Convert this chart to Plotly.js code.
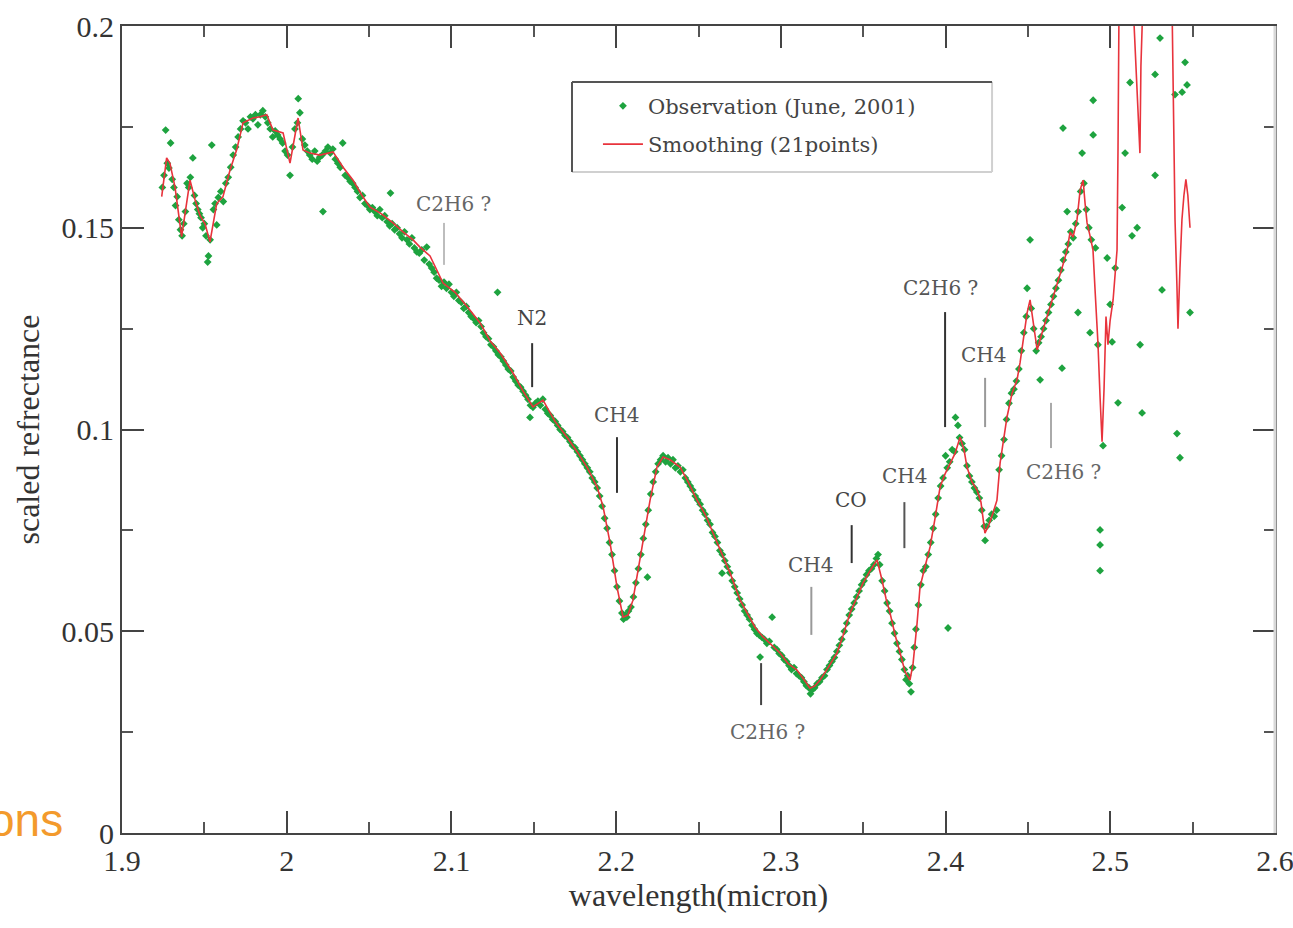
<!DOCTYPE html>
<html>
<head>
<meta charset="utf-8">
<script src="https://cdn.plot.ly/plotly-3.0.1.min.js"></script>
<style>
html,body{margin:0;padding:0;background:#fff;}
#chart{width:1293px;height:928px;}
</style>
</head>
<body>
<div id="chart"></div>
<script>
// ---------- data ----------
// Observation (June, 2001): [wavelength (micron), scaled reflectance]
const observation = [
[1.9245,0.1600],[1.9255,0.1630],[1.9265,0.1742],[1.9275,0.1660],[1.9285,0.1648],[1.9295,0.1710],[1.9305,0.1620],[1.9315,0.1600],
[1.9325,0.1555],[1.9335,0.1577],[1.9345,0.1520],[1.9355,0.1495],[1.9365,0.1480],[1.9375,0.1510],[1.9385,0.1540],[1.9395,0.1610],
[1.9405,0.1600],[1.9415,0.1625],[1.9430,0.1673],[1.9440,0.1580],[1.9450,0.1560],[1.9460,0.1545],[1.9470,0.1535],[1.9480,0.1525],
[1.9490,0.1500],[1.9500,0.1510],[1.9510,0.1480],[1.9520,0.1415],[1.9525,0.1430],[1.9535,0.1470],[1.9545,0.1705],[1.9555,0.1545],
[1.9565,0.1560],[1.9575,0.1507],[1.9585,0.1575],[1.9600,0.1590],[1.9615,0.1565],[1.9630,0.1610],[1.9645,0.1625],[1.9660,0.1650],
[1.9675,0.1680],[1.9690,0.1700],[1.9705,0.1725],[1.9720,0.1745],[1.9735,0.1765],[1.9750,0.1760],[1.9765,0.1745],[1.9780,0.1775],
[1.9795,0.1770],[1.9810,0.1780],[1.9825,0.1755],[1.9840,0.1780],[1.9855,0.1790],[1.9870,0.1775],[1.9885,0.1760],[1.9900,0.1745],
[1.9915,0.1725],[1.9930,0.1740],[1.9945,0.1730],[1.9960,0.1720],[1.9975,0.1710],[1.9990,0.1690],[2.0005,0.1680],[2.0020,0.1630],
[2.0035,0.1700],[2.0050,0.1745],[2.0065,0.1760],[2.0070,0.1820],[2.0080,0.1785],[2.0095,0.1720],[2.0110,0.1705],[2.0125,0.1690],
[2.0140,0.1680],[2.0155,0.1670],[2.0170,0.1690],[2.0185,0.1665],[2.0200,0.1675],[2.0215,0.1680],[2.0220,0.1540],[2.0235,0.1690],
[2.0250,0.1700],[2.0265,0.1685],[2.0280,0.1695],[2.0295,0.1670],[2.0310,0.1660],[2.0325,0.1650],[2.0340,0.1710],[2.0355,0.1630],
[2.0370,0.1625],[2.0385,0.1615],[2.0400,0.1610],[2.0415,0.1600],[2.0430,0.1590],[2.0445,0.1575],[2.0460,0.1580],[2.0475,0.1560],
[2.0490,0.1555],[2.0505,0.1545],[2.0520,0.1550],[2.0535,0.1540],[2.0550,0.1530],[2.0565,0.1545],[2.0580,0.1525],[2.0595,0.1530],
[2.0610,0.1515],[2.0625,0.1505],[2.0630,0.1586],[2.0640,0.1510],[2.0655,0.1495],[2.0670,0.1500],[2.0685,0.1485],[2.0700,0.1475],
[2.0715,0.1490],[2.0730,0.1470],[2.0745,0.1460],[2.0760,0.1475],[2.0775,0.1450],[2.0790,0.1440],[2.0805,0.1437],[2.0820,0.1445],
[2.0835,0.1420],[2.0850,0.1452],[2.0865,0.1410],[2.0880,0.1400],[2.0895,0.1390],[2.0910,0.1375],[2.0925,0.1370],[2.0940,0.1355],
[2.0955,0.1365],[2.0970,0.1350],[2.0985,0.1360],[2.1000,0.1340],[2.1015,0.1330],[2.1030,0.1340],[2.1045,0.1320],[2.1060,0.1315],
[2.1075,0.1300],[2.1090,0.1305],[2.1105,0.1290],[2.1120,0.1280],[2.1135,0.1275],[2.1150,0.1265],[2.1165,0.1270],[2.1180,0.1255],
[2.1195,0.1240],[2.1210,0.1230],[2.1225,0.1225],[2.1240,0.1210],[2.1255,0.1205],[2.1270,0.1195],[2.1280,0.1340],[2.1285,0.1185],
[2.1300,0.1180],[2.1315,0.1170],[2.1330,0.1160],[2.1345,0.1150],[2.1360,0.1145],[2.1375,0.1130],[2.1390,0.1120],[2.1405,0.1110],
[2.1420,0.1105],[2.1435,0.1095],[2.1450,0.1085],[2.1465,0.1075],[2.1477,0.1030],[2.1480,0.1060],[2.1495,0.1055],[2.1510,0.1065],
[2.1525,0.1070],[2.1540,0.1060],[2.1555,0.1075],[2.1570,0.1050],[2.1585,0.1040],[2.1600,0.1035],[2.1615,0.1025],[2.1630,0.1020],
[2.1645,0.1010],[2.1660,0.1000],[2.1675,0.0995],[2.1690,0.0985],[2.1705,0.0980],[2.1720,0.0970],[2.1735,0.0960],[2.1750,0.0955],
[2.1765,0.0945],[2.1780,0.0935],[2.1795,0.0925],[2.1810,0.0915],[2.1825,0.0905],[2.1840,0.0895],[2.1855,0.0880],[2.1870,0.0870],
[2.1885,0.0855],[2.1900,0.0835],[2.1915,0.0810],[2.1930,0.0780],[2.1945,0.0755],[2.1960,0.0720],[2.1975,0.0690],[2.1990,0.0650],
[2.2005,0.0610],[2.2020,0.0575],[2.2035,0.0545],[2.2045,0.0530],[2.2055,0.0540],[2.2065,0.0535],[2.2075,0.0550],[2.2090,0.0560],
[2.2105,0.0585],[2.2120,0.0620],[2.2135,0.0655],[2.2150,0.0690],[2.2165,0.0730],[2.2180,0.0765],[2.2190,0.0634],[2.2195,0.0800],
[2.2210,0.0840],[2.2225,0.0870],[2.2240,0.0895],[2.2255,0.0915],[2.2270,0.0925],[2.2285,0.0935],[2.2300,0.0920],[2.2315,0.0930],
[2.2330,0.0915],[2.2345,0.0925],[2.2360,0.0905],[2.2375,0.0910],[2.2390,0.0895],[2.2405,0.0900],[2.2420,0.0880],[2.2435,0.0870],
[2.2450,0.0860],[2.2465,0.0850],[2.2480,0.0835],[2.2495,0.0825],[2.2510,0.0815],[2.2525,0.0800],[2.2540,0.0790],[2.2555,0.0775],
[2.2570,0.0765],[2.2585,0.0745],[2.2600,0.0735],[2.2615,0.0720],[2.2630,0.0700],[2.2643,0.0644],[2.2645,0.0690],[2.2660,0.0675],
[2.2675,0.0660],[2.2690,0.0645],[2.2705,0.0625],[2.2720,0.0610],[2.2735,0.0595],[2.2750,0.0580],[2.2765,0.0565],[2.2780,0.0550],
[2.2795,0.0540],[2.2810,0.0530],[2.2825,0.0515],[2.2840,0.0505],[2.2855,0.0495],[2.2870,0.0490],[2.2874,0.0436],[2.2885,0.0485],
[2.2900,0.0480],[2.2915,0.0470],[2.2930,0.0475],[2.2947,0.0535],[2.2960,0.0460],[2.2975,0.0455],[2.2990,0.0445],[2.3005,0.0440],
[2.3020,0.0430],[2.3035,0.0425],[2.3050,0.0415],[2.3065,0.0405],[2.3080,0.0410],[2.3095,0.0395],[2.3110,0.0390],[2.3125,0.0385],
[2.3140,0.0375],[2.3155,0.0365],[2.3170,0.0360],[2.3180,0.0345],[2.3190,0.0355],[2.3205,0.0360],[2.3220,0.0370],[2.3235,0.0375],
[2.3250,0.0385],[2.3265,0.0390],[2.3280,0.0405],[2.3295,0.0415],[2.3310,0.0425],[2.3325,0.0435],[2.3340,0.0450],[2.3355,0.0465],
[2.3370,0.0480],[2.3385,0.0500],[2.3400,0.0520],[2.3415,0.0540],[2.3430,0.0555],[2.3445,0.0570],[2.3460,0.0585],[2.3475,0.0600],
[2.3490,0.0615],[2.3505,0.0625],[2.3520,0.0640],[2.3535,0.0650],[2.3550,0.0655],[2.3565,0.0665],[2.3580,0.0680],[2.3590,0.0690],
[2.3600,0.0665],[2.3615,0.0625],[2.3630,0.0600],[2.3645,0.0570],[2.3660,0.0550],[2.3675,0.0520],[2.3690,0.0495],[2.3705,0.0470],
[2.3720,0.0450],[2.3735,0.0430],[2.3750,0.0405],[2.3760,0.0380],[2.3770,0.0390],[2.3780,0.0370],[2.3790,0.0350],[2.3800,0.0410],
[2.3810,0.0460],[2.3820,0.0505],[2.3835,0.0565],[2.3850,0.0615],[2.3865,0.0650],[2.3880,0.0660],[2.3895,0.0690],[2.3910,0.0720],
[2.3925,0.0755],[2.3940,0.0790],[2.3955,0.0830],[2.3970,0.0860],[2.3985,0.0880],[2.4000,0.0935],[2.4010,0.0905],[2.4015,0.0508],
[2.4025,0.0920],[2.4040,0.0950],[2.4055,0.0945],[2.4060,0.1030],[2.4075,0.1010],[2.4085,0.0980],[2.4100,0.0965],[2.4115,0.0950],
[2.4130,0.0910],[2.4145,0.0885],[2.4160,0.0870],[2.4175,0.0855],[2.4190,0.0845],[2.4205,0.0830],[2.4220,0.0800],[2.4235,0.0760],
[2.4240,0.0725],[2.4250,0.0760],[2.4265,0.0775],[2.4280,0.0790],[2.4295,0.0785],[2.4310,0.0800],[2.4325,0.0900],[2.4340,0.0935],
[2.4355,0.0975],[2.4370,0.1025],[2.4385,0.1065],[2.4400,0.1090],[2.4415,0.1100],[2.4430,0.1120],[2.4445,0.1150],[2.4460,0.1195],
[2.4475,0.1240],[2.4490,0.1280],[2.4495,0.1350],[2.4513,0.1470],[2.4520,0.1300],[2.4535,0.1250],[2.4550,0.1195],[2.4565,0.1215],
[2.4574,0.1123],[2.4580,0.1230],[2.4595,0.1250],[2.4610,0.1270],[2.4625,0.1290],[2.4640,0.1310],[2.4655,0.1330],[2.4670,0.1350],
[2.4685,0.1370],[2.4700,0.1395],[2.4707,0.1152],[2.4713,0.1747],[2.4715,0.1420],[2.4730,0.1440],[2.4738,0.1540],[2.4745,0.1460],
[2.4760,0.1490],[2.4775,0.1475],[2.4790,0.1510],[2.4804,0.1290],[2.4805,0.1540],[2.4820,0.1590],[2.4829,0.1685],[2.4840,0.1610],
[2.4855,0.1545],[2.4870,0.1500],[2.4877,0.1240],[2.4885,0.1470],[2.4896,0.1816],[2.4896,0.1730],[2.4910,0.1450],[2.4925,0.1210],
[2.4938,0.0751],[2.4938,0.0714],[2.4938,0.0650],[2.4956,0.0960],[2.4981,0.1425],[2.4999,0.1310],[2.5011,0.1217],[2.5030,0.1400],
[2.5047,0.1066],[2.5072,0.1550],[2.5090,0.1685],[2.5120,0.1860],[2.5132,0.1480],[2.5163,0.1500],[2.5181,0.1210],[2.5193,0.1041],
[2.5272,0.1630],[2.5272,0.1880],[2.5302,0.1970],[2.5314,0.1346],[2.5393,0.1830],[2.5405,0.0990],[2.5423,0.0930],[2.5436,0.1836],
[2.5454,0.1910],[2.5466,0.1854],[2.5484,0.1290]
];

// Smoothing (21points): [wavelength (micron), scaled reflectance]
const smoothing = [
[1.9241,0.1577],[1.9271,0.1673],[1.9291,0.1660],[1.9322,0.1600],[1.9362,0.1478],[1.9389,0.1550],[1.9413,0.1618],[1.9443,0.1570],
[1.9474,0.1530],[1.9504,0.1510],[1.9534,0.1465],[1.9575,0.1560],[1.9613,0.1577],[1.9656,0.1643],[1.9696,0.1693],[1.9735,0.1760],
[1.9795,0.1772],[1.9838,0.1775],[1.9879,0.1780],[1.9917,0.1742],[1.9978,0.1735],[2.0020,0.1660],[2.0044,0.1720],[2.0069,0.1772],
[2.0099,0.1693],[2.0141,0.1685],[2.0202,0.1680],[2.0281,0.1688],[2.0342,0.1650],[2.0403,0.1618],[2.0457,0.1580],[2.0506,0.1551],
[2.0573,0.1535],[2.0645,0.1512],[2.0706,0.1490],[2.0767,0.1470],[2.0809,0.1452],[2.0870,0.1430],[2.0949,0.1363],[2.1022,0.1340],
[2.1095,0.1305],[2.1174,0.1264],[2.1234,0.1220],[2.1295,0.1190],[2.1374,0.1140],[2.1435,0.1095],[2.1495,0.1056],[2.1526,0.1065],
[2.1556,0.1073],[2.1629,0.1020],[2.1702,0.0981],[2.1763,0.0945],[2.1823,0.0907],[2.1884,0.0858],[2.1920,0.0810],[2.1963,0.0719],
[2.2005,0.0610],[2.2042,0.0535],[2.2072,0.0540],[2.2102,0.0577],[2.2145,0.0677],[2.2175,0.0750],[2.2206,0.0825],[2.2248,0.0907],
[2.2285,0.0932],[2.2327,0.0925],[2.2388,0.0907],[2.2437,0.0870],[2.2491,0.0825],[2.2540,0.0790],[2.2588,0.0743],[2.2643,0.0690],
[2.2692,0.0644],[2.2753,0.0577],[2.2795,0.0545],[2.2843,0.0510],[2.2892,0.0486],[2.2947,0.0465],[2.2995,0.0446],[2.3044,0.0420],
[2.3098,0.0404],[2.3141,0.0380],[2.3177,0.0359],[2.3208,0.0365],[2.3238,0.0379],[2.3287,0.0410],[2.3341,0.0446],[2.3378,0.0490],
[2.3420,0.0545],[2.3463,0.0585],[2.3499,0.0620],[2.3542,0.0650],[2.3584,0.0677],[2.3614,0.0627],[2.3639,0.0580],[2.3663,0.0545],
[2.3694,0.0490],[2.3724,0.0446],[2.3754,0.0400],[2.3784,0.0379],[2.3803,0.0421],[2.3827,0.0520],[2.3845,0.0610],[2.3875,0.0660],
[2.3906,0.0709],[2.3936,0.0780],[2.3967,0.0858],[2.3997,0.0890],[2.4027,0.0917],[2.4057,0.0940],[2.4088,0.0981],[2.4112,0.0950],
[2.4130,0.0907],[2.4160,0.0870],[2.4191,0.0850],[2.4215,0.0820],[2.4239,0.0743],[2.4264,0.0765],[2.4288,0.0793],[2.4312,0.0825],
[2.4331,0.0917],[2.4355,0.0980],[2.4373,0.1031],[2.4404,0.1090],[2.4434,0.1123],[2.4452,0.1165],[2.4476,0.1240],[2.4495,0.1289],
[2.4513,0.1321],[2.4531,0.1270],[2.4556,0.1197],[2.4586,0.1240],[2.4616,0.1279],[2.4647,0.1320],[2.4677,0.1363],[2.4707,0.1400],
[2.4738,0.1445],[2.4756,0.1490],[2.4774,0.1477],[2.4798,0.1520],[2.4817,0.1594],[2.4835,0.1618],[2.4847,0.1560],[2.4859,0.1512],
[2.4877,0.1480],[2.4895,0.1445],[2.4907,0.1350],[2.4925,0.1215],[2.4938,0.1080],[2.4950,0.0970],[2.4962,0.1100],[2.4974,0.1280],
[2.4986,0.1210],[2.4999,0.1270],[2.5017,0.1321],[2.5029,0.1395],[2.5041,0.1445],[2.5047,0.1700],[2.5053,0.2050],[2.5080,0.2150],
[2.5110,0.2120],[2.5138,0.2060],[2.5150,0.1950],[2.5168,0.1780],[2.5180,0.1685],[2.5186,0.1900],[2.5198,0.2060],[2.5250,0.2200],
[2.5320,0.2150],[2.5375,0.2050],[2.5387,0.1700],[2.5393,0.1520],[2.5405,0.1350],[2.5411,0.1250],[2.5423,0.1400],[2.5435,0.1520],
[2.5447,0.1580],[2.5459,0.1620],[2.5471,0.1580],[2.5484,0.1500]
];

// Band labels drawn above/below the spectrum
const bandNames   = ["C2H6 ?", "N2", "CH4", "C2H6 ?", "CH4", "CO", "CH4", "C2H6 ?", "CH4", "C2H6 ?"];
const bandX       = [2.0955, 2.1490, 2.2005, 2.2880, 2.3185, 2.3430, 2.3750, 2.3997, 2.4240, 2.4640];
const bandLabelX  = [2.1010, 2.1490, 2.2000, 2.2916, 2.3177, 2.3426, 2.3748, 2.3967, 2.4228, 2.4713];
const bandLabelY  = [0.1559, 0.1276, 0.1036, 0.0250, 0.0664, 0.0825, 0.0885, 0.1351, 0.1185, 0.0895];
const bandLineY0  = [0.1408, 0.1105, 0.0843, 0.0317, 0.0491, 0.0669, 0.0706, 0.1006, 0.1006, 0.0954];
const bandLineY1  = [0.1512, 0.1214, 0.0981, 0.0421, 0.0610, 0.0763, 0.0820, 0.1291, 0.1128, 0.1066];

const xTitle = "wavelength(micron)";
const yTitle = "scaled refrectance";
const traceNames = ["Observation (June, 2001)", "Smoothing (21points)"];

// ---------- styles ----------
const bandLineColors = ["#bdbdbd", "#333", "#333", "#444", "#999", "#333", "#555", "#333", "#999", "#aaa"];
const bandTextColors = ["#666", "#444", "#555", "#666", "#555", "#444", "#555", "#555", "#555", "#666"];
const serif = "Liberation Serif, Times New Roman, serif";
const labelSerif = "DejaVu Serif, serif";

const traces = [
  {
    x: observation.map(p => p[0]), y: observation.map(p => p[1]),
    type: "scatter", mode: "markers", name: traceNames[0], legendgroup: "a",
    marker: {symbol: "diamond", size: 6, color: "#1ea33f"},
    cliponaxis: true
  },
  {
    x: smoothing.map(p => p[0]), y: smoothing.map(p => p[1]),
    type: "scatter", mode: "lines", name: traceNames[1], legendgroup: "b",
    line: {color: "#e8333c", width: 1.6}
  }
];

const shapes = [];
const annotations = [];
for (let i = 0; i < bandNames.length; i++) {
  shapes.push({type: "line", xref: "x", yref: "y", x0: bandX[i], x1: bandX[i],
    y0: bandLineY0[i], y1: bandLineY1[i], line: {color: bandLineColors[i], width: 2}});
  annotations.push({xref: "x", yref: "y", x: bandLabelX[i], y: bandLabelY[i], text: bandNames[i],
    showarrow: false, font: {family: labelSerif, size: 20, color: bandTextColors[i]}});
}
// legend frame (dark top/left, light right/bottom)
shapes.push({type: "rect", xref: "paper", yref: "paper", x0: 0.3903, x1: 0.7546, y0: 0.8191, y1: 0.9306,
  fillcolor: "#fff", line: {width: 0}, layer: "below"});
shapes.push({type: "line", xref: "paper", yref: "paper", x0: 0.3903, x1: 0.7546, y0: 0.8191, y1: 0.8191, line: {color: "#d0d0d0", width: 2}});
shapes.push({type: "line", xref: "paper", yref: "paper", x0: 0.7546, x1: 0.7546, y0: 0.8191, y1: 0.9306, line: {color: "#d0d0d0", width: 2}});
shapes.push({type: "line", xref: "paper", yref: "paper", x0: 0.3903, x1: 0.7546, y0: 0.9306, y1: 0.9306, line: {color: "#555", width: 2}});
shapes.push({type: "line", xref: "paper", yref: "paper", x0: 0.3903, x1: 0.3903, y0: 0.8191, y1: 0.9306, line: {color: "#555", width: 2}});
// light right frame edge
shapes.push({type: "line", xref: "paper", yref: "paper", x0: 1, x1: 1, y0: 0, y1: 1, line: {color: "#d8d8d8", width: 3}});

// cut-off orange slide text at lower left
annotations.push({xref: "paper", yref: "paper", x: -0.0494, y: 0.016, xanchor: "right", yanchor: "middle",
  text: "ons", showarrow: false, font: {family: "Liberation Sans, Arial, sans-serif", size: 46, color: "#f39a2c"}});

const axisCommon = {
  showgrid: false, zeroline: false, showline: true, linecolor: "#444", linewidth: 2,
  ticks: "inside", ticklen: 22, tickwidth: 2, tickcolor: "#444", mirror: "ticks",
  ticklabeloverflow: "allow",
  tickfont: {family: serif, size: 30, color: "#333"}
};

const layout = {
  width: 1293, height: 928,
  margin: {l: 122, r: 18, t: 26, b: 95},
  paper_bgcolor: "#fff", plot_bgcolor: "#fff",
  showlegend: true,
  legend: {x: 0.4128, y: 0.926, xanchor: "left", yanchor: "top", bgcolor: "rgba(0,0,0,0)",
    borderwidth: 0, tracegroupgap: 8, itemwidth: 40,
    font: {family: labelSerif, size: 21, color: "#444"}},
  xaxis: Object.assign({}, axisCommon, {
    range: [1.9, 2.6], dtick: 0.1, tick0: 1.9,
    minor: {dtick: 0.05, ticks: "inside", ticklen: 11, tickwidth: 2, tickcolor: "#555"},
    title: {text: xTitle, font: {family: serif, size: 32, color: "#333"}, standoff: 8}
  }),
  yaxis: Object.assign({}, axisCommon, {
    range: [0, 0.2], dtick: 0.05, tick0: 0,
    minor: {dtick: 0.025, ticks: "inside", ticklen: 11, tickwidth: 2, tickcolor: "#555"},
    title: {text: yTitle, font: {family: serif, size: 32, color: "#333"}, standoff: 12}
  }),
  shapes: shapes,
  annotations: annotations
};

Plotly.newPlot("chart", traces, layout, {displayModeBar: false, staticPlot: true});
</script>
</body>
</html>
